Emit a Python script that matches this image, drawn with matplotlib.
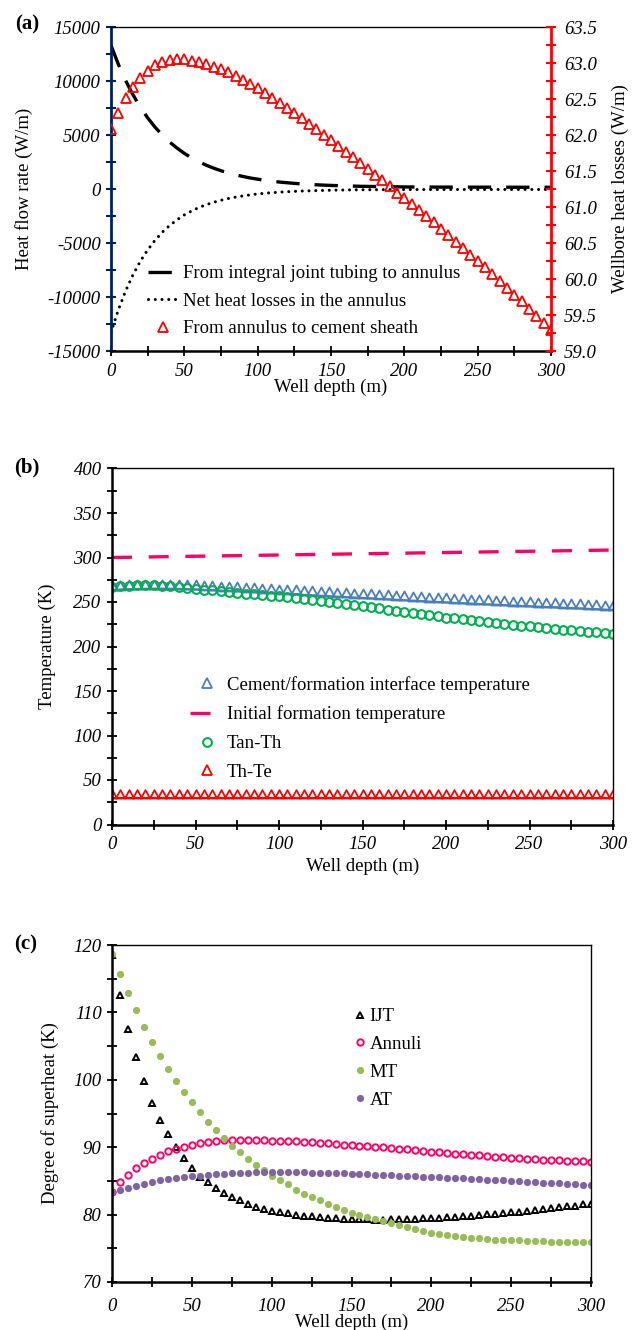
import numpy as np
import matplotlib
matplotlib.use("Agg")
import matplotlib.pyplot as plt
from matplotlib.lines import Line2D
from matplotlib.path import Path
from matplotlib.ticker import MultipleLocator, FormatStrFormatter

# well depth, every 5 m
depth = np.arange(0, 301, 5)
depth_coarse = np.arange(0, 301, 25)

# (a) heat flow rate along the well (W/m)
q_ijt_annulus = [13300, 11550, 10030, 8720, 7580, 6590, 5730, 4990, 4340, 3790,
                 3300, 2880, 2520, 2200, 1930, 1690, 1490, 1310, 1160, 1020,
                 910, 800, 720, 640, 580, 520, 470, 430, 390, 360,
                 330, 310, 290, 270, 250, 240, 230, 220, 210, 200,
                 190, 185, 182, 180, 178, 176, 175, 173, 172, 170,
                 169, 168, 167, 166, 165, 164, 163, 162, 161, 160, 160]
q_net_annulus = [-13290, -11190, -9430, -7940, -6690, -5640, -4750, -4000, -3380, -2850,
                 -2400, -2030, -1710, -1450, -1230, -1040, -880, -750, -640, -540,
                 -460, -390, -340, -290, -250, -220, -190, -170, -150, -130,
                 -115, -100, -90, -80, -75, -70, -65, -60, -58, -55,
                 -53, -52, -51, -50, -50, -49, -49, -48, -48, -47,
                 -47, -47, -46, -46, -46, -45, -45, -45, -45, -44, -44]
q_annulus_cement = [62.09, 62.31, 62.51, 62.66, 62.79, 62.89, 62.97, 63.02, 63.04, 63.05,
                    63.05, 63.03, 63.01, 62.98, 62.95, 62.91, 62.87, 62.82, 62.77, 62.71,
                    62.65, 62.58, 62.51, 62.44, 62.37, 62.30, 62.23, 62.15, 62.08, 62.00,
                    61.93, 61.85, 61.77, 61.69, 61.61, 61.53, 61.45, 61.37, 61.29, 61.20,
                    61.12, 61.04, 60.96, 60.88, 60.79, 60.70, 60.61, 60.52, 60.43, 60.34,
                    60.25, 60.16, 60.07, 59.97, 59.88, 59.78, 59.69, 59.59, 59.49, 59.39,
                    59.29]

# (b) temperatures (K)
t_cement_formation = [263.5, 264.0, 264.4, 264.7, 264.9, 265.0, 265.0, 264.9, 264.7, 264.4,
                      264.1, 263.7, 263.3, 262.9, 262.4, 262.0, 261.5, 261.0, 260.5, 260.0,
                      259.5, 259.0, 258.5, 258.0, 257.5, 257.0, 256.5, 256.0, 255.5, 255.0,
                      254.5, 254.0, 253.5, 253.0, 252.5, 252.0, 251.5, 251.0, 250.5, 250.0,
                      249.5, 249.0, 248.6, 248.2, 247.7, 247.3, 246.9, 246.5, 246.0, 245.6,
                      245.2, 244.8, 244.4, 244.0, 243.5, 243.1, 242.7, 242.3, 241.9, 241.5,
                      241.1]
t_initial = [300.0, 300.7, 301.4, 302.1, 302.8, 303.5, 304.2, 304.9, 305.6, 306.3,
             307.0, 307.7, 308.4]
tan_th = [267.0, 267.9, 268.5, 268.9, 269.0, 268.9, 268.5, 267.9, 267.0, 266.1,
          265.0, 264.0, 263.0, 262.0, 261.0, 260.2, 259.5, 258.8, 258.0, 257.3,
          256.5, 255.5, 254.5, 253.5, 252.5, 251.3, 250.0, 248.8, 247.5, 246.5,
          245.5, 244.3, 243.0, 241.5, 240.0, 238.8, 237.5, 236.2, 235.0, 233.8,
          232.5, 231.5, 230.5, 229.5, 228.5, 227.5, 226.5, 225.5, 224.5, 223.5,
          222.5, 221.5, 220.5, 219.7, 219.0, 218.2, 217.5, 216.7, 216.0, 215.2,
          214.5]
th_te = [30.0, 30.0, 30.0, 30.0, 30.0, 30.0, 30.0, 30.0, 30.0, 30.0,
         30.0, 30.0, 30.0, 30.0, 30.0, 30.0, 30.0, 30.0, 30.0, 30.0,
         30.0, 30.0, 30.0, 30.0, 30.0, 30.0, 30.0, 30.0, 30.0, 30.0,
         30.0, 30.0, 30.0, 30.0, 30.0, 30.0, 30.0, 30.0, 30.0, 30.0,
         30.0, 30.0, 30.0, 30.0, 30.0, 30.0, 30.0, 30.0, 30.0, 30.0,
         30.0, 30.0, 30.0, 30.0, 30.0, 30.0, 30.0, 30.0, 30.0, 30.0,
         30.0]

# (c) degree of superheat (K)
sh_ijt = [118.5, 112.6, 107.6, 103.4, 99.8, 96.6, 94.0, 91.9, 90.0, 88.4,
          86.9, 85.6, 84.8, 84.0, 83.2, 82.6, 82.1, 81.6, 81.2, 80.9,
          80.6, 80.4, 80.2, 80.0, 79.85, 79.75, 79.65, 79.55, 79.5, 79.4,
          79.35, 79.3, 79.3, 79.25, 79.25, 79.3, 79.3, 79.35, 79.4, 79.45,
          79.5, 79.55, 79.6, 79.7, 79.75, 79.85, 79.95, 80.05, 80.15, 80.25,
          80.35, 80.45, 80.55, 80.7, 80.8, 80.95, 81.1, 81.25, 81.35, 81.5,
          81.6]
sh_annuli = [83.4, 84.8, 85.9, 86.9, 87.7, 88.3, 88.9, 89.4, 89.8, 90.1,
             90.4, 90.6, 90.8, 90.9, 91.0, 91.0, 91.0, 91.0, 91.0, 91.0,
             90.95, 90.9, 90.9, 90.85, 90.8, 90.75, 90.65, 90.6, 90.5, 90.4,
             90.35, 90.25, 90.2, 90.1, 90.0, 89.9, 89.8, 89.7, 89.6, 89.45,
             89.35, 89.25, 89.15, 89.05, 88.95, 88.9, 88.8, 88.7, 88.6, 88.55,
             88.45, 88.4, 88.3, 88.25, 88.15, 88.1, 88.05, 88.0, 87.95, 87.9,
             87.85]
sh_mt = [118.7, 115.7, 112.9, 110.3, 107.9, 105.6, 103.5, 101.6, 99.8, 98.2,
         96.7, 95.2, 93.8, 92.6, 91.4, 90.2, 89.3, 88.3, 87.4, 86.6,
         85.8, 85.1, 84.5, 83.7, 83.1, 82.6, 82.1, 81.6, 81.1, 80.7,
         80.3, 80.0, 79.7, 79.3, 79.0, 78.7, 78.4, 78.1, 77.8, 77.5,
         77.3, 77.1, 77.0, 76.8, 76.7, 76.6, 76.5, 76.4, 76.3, 76.3,
         76.2, 76.2, 76.1, 76.1, 76.1, 76.0, 76.0, 76.0, 76.0, 76.0,
         75.9]
sh_at = [83.4, 83.7, 84.0, 84.3, 84.6, 84.9, 85.1, 85.3, 85.45, 85.6,
         85.7, 85.8, 85.9, 86.0, 86.05, 86.1, 86.15, 86.2, 86.25, 86.25,
         86.3, 86.3, 86.3, 86.28, 86.26, 86.24, 86.2, 86.17, 86.14, 86.1,
         86.06, 86.02, 85.98, 85.94, 85.9, 85.85, 85.8, 85.75, 85.7, 85.65,
         85.6, 85.54, 85.48, 85.42, 85.36, 85.3, 85.24, 85.18, 85.12, 85.06,
         85.0, 84.94, 84.88, 84.82, 84.76, 84.7, 84.63, 84.56, 84.49, 84.42,
         84.35]

plt.rcParams['font.family'] = ['Liberation Serif', 'DejaVu Serif']
plt.rcParams['font.style'] = 'italic'     # tick numbers are italic
plt.rcParams['axes.unicode_minus'] = False
FS = 13.5
NAVY = '#002060'
BLUE = '#4a7ebb'
PINK = '#ff0066'
GREEN = '#00b050'
RED = '#ff0000'
LEAF = '#9bbb59'
PURPLE = '#8064a2'
W, H = 632, 1330

fig = plt.figure(figsize=(W / 100, H / 100), dpi=100)


def axes_px(l, t, r, b):
    return fig.add_axes([l / W, 1 - b / H, (r - l) / W, (b - t) / H])


def depth_axis(ax, ylab_x, xlab_y, pad=5):
    ax.set_xlim(0, 300)
    ax.xaxis.set_major_locator(MultipleLocator(50))
    ax.xaxis.set_minor_locator(MultipleLocator(25))
    ax.tick_params(axis='x', which='both', direction='inout', length=7, width=1.3,
                   labelsize=FS, pad=pad, top=False)
    ax.set_xlabel('Well depth (m)', fontsize=FS, fontstyle='normal', va='center')
    ax.xaxis.set_label_coords(0.5, xlab_y)
    ax.yaxis.set_label_coords(ylab_x, 0.5)


def legend_at(ax, handles, labels, x, y, **kw):
    return ax.legend(handles, labels, loc='upper left', bbox_to_anchor=(x / W, 1 - y / H),
                     bbox_transform=fig.transFigure, frameon=False, borderpad=0,
                     borderaxespad=0, prop={'size': FS, 'style': 'normal'}, **kw)


# triangle sitting on its data point, so the curve runs along the bases
tri_base = Path([(-0.55, 0), (0.55, 0), (0, 1.0), (-0.55, 0)],
                [Path.MOVETO, Path.LINETO, Path.LINETO, Path.CLOSEPOLY])

# ---------------- (a) ----------------
ax = axes_px(111, 27, 551, 351)
ax2 = ax.twinx()
l1, = ax.plot(depth, q_ijt_annulus, color='k', lw=2.4, dashes=(7, 4.5))
l2, = ax.plot(depth, q_net_annulus, color='k', lw=2.2, dashes=(0.01, 2.2),
              dash_capstyle='round')
l3, = ax2.plot(depth, q_annulus_cement, ls='none', marker='^', ms=7, mfc='none',
               mec=RED, mew=1.3)
ax.set_ylim(-15000, 15000)
ax.yaxis.set_major_locator(MultipleLocator(5000))
ax.yaxis.set_minor_locator(MultipleLocator(2500))
ax.tick_params(axis='y', which='both', direction='inout', length=7, width=1.5,
               color=NAVY, labelsize=FS, pad=4)
ax2.set_ylim(59.0, 63.5)
ax2.yaxis.set_major_locator(MultipleLocator(0.5))
ax2.yaxis.set_minor_locator(MultipleLocator(0.25))
ax2.yaxis.set_major_formatter(FormatStrFormatter('%.1f'))
ax2.tick_params(axis='y', which='both', direction='inout', length=7, width=1.5,
                color=RED, labelsize=FS, pad=6)
ax.spines['left'].set(color=NAVY, lw=2.0)
ax.spines['bottom'].set(lw=1.8)
ax.spines['top'].set(lw=1.0)
ax.spines['right'].set_visible(False)
for s in ('left', 'top', 'bottom'):
    ax2.spines[s].set_visible(False)
ax2.spines['right'].set(color=RED, lw=2.0)
ax.set_ylabel('Heat flow rate (W/m)', fontsize=FS, fontstyle='normal', va='center')
ax2.set_ylabel('Wellbore heat losses (W/m)', fontsize=FS, fontstyle='normal', va='center')
ax2.yaxis.set_label_coords(1.157, 0.5)
depth_axis(ax, -0.198, -0.111)
legend_at(ax2, [l1, l2, l3],
          ['From integral joint tubing to annulus', 'Net heat losses in the annulus',
           'From annulus to cement sheath'],
          148, 265, handlelength=1.6, handletextpad=0.27, labelspacing=0.56)

# ---------------- (b) ----------------
bx = axes_px(112, 468.5, 613, 824.5)
bx.plot(depth, t_cement_formation, color=BLUE, lw=1.6)
bx.plot(depth, t_cement_formation, ls='none', marker=tri_base, ms=13, mfc='none',
        mec=BLUE, mew=1.3)
bx.plot(depth_coarse, t_initial, color=PINK, lw=2.4, dashes=(6, 5))
bx.plot(depth, tan_th, ls='none', marker='o', ms=6.3, mfc='none', mec=GREEN, mew=1.5)
bx.plot(depth, th_te, color=RED, lw=1.6)
bx.plot(depth, th_te, ls='none', marker=tri_base, ms=12, mfc='none', mec=RED, mew=1.3)
bx.set_ylim(0, 400)
bx.yaxis.set_major_locator(MultipleLocator(50))
bx.yaxis.set_minor_locator(MultipleLocator(25))
bx.tick_params(axis='y', which='both', direction='inout', length=7, width=1.3,
               labelsize=FS, pad=4, right=False)
for s in ('left', 'bottom'):
    bx.spines[s].set(lw=1.8)
for s in ('top', 'right'):
    bx.spines[s].set(lw=1.0)
bx.set_ylabel('Temperature (K)', fontsize=FS, fontstyle='normal', va='center')
depth_axis(bx, -0.130, -0.117)
hb = [Line2D([], [], ls='none', marker='^', ms=7, mfc='none', mec=BLUE, mew=1.3),
      Line2D([], [], color=PINK, lw=2.4, dashes=(6, 5)),
      Line2D([], [], ls='none', marker='o', ms=6.3, mfc='none', mec=GREEN, mew=1.5),
      Line2D([], [], ls='none', marker='^', ms=7, mfc='none', mec=RED, mew=1.3)]
legend_at(bx, hb, ['Cement/formation interface temperature', 'Initial formation temperature',
                   'Tan-Th', 'Th-Te'],
          190, 676, handlelength=1.76, handletextpad=0.2, labelspacing=0.62)

# ---------------- (c) ----------------
cx = axes_px(112, 945, 591, 1282)
c1, = cx.plot(depth, sh_ijt, ls='none', marker='^', ms=4.6, mfc='none', mec='k', mew=1.4)
c2, = cx.plot(depth, sh_annuli, ls='none', marker='o', ms=4.6, mfc='none', mec=PINK, mew=1.4)
c3, = cx.plot(depth, sh_mt, ls='none', marker='o', ms=5.2, color=LEAF, mew=0)
c4, = cx.plot(depth, sh_at, ls='none', marker='o', ms=5.2, color=PURPLE, mew=0)
cx.set_ylim(70, 120)
cx.yaxis.set_major_locator(MultipleLocator(10))
cx.yaxis.set_minor_locator(MultipleLocator(5))
cx.tick_params(axis='y', which='both', direction='inout', length=7, width=1.3,
               labelsize=FS, pad=4, right=False)
for s in ('left', 'bottom'):
    cx.spines[s].set(lw=1.8)
for s in ('top', 'right'):
    cx.spines[s].set(lw=1.0)
cx.set_ylabel('Degree of superheat (K)', fontsize=FS, fontstyle='normal', va='center')
depth_axis(cx, -0.129, -0.119, pad=8)
legend_at(cx, [c1, c2, c3, c4], ['IJT', 'Annuli', 'MT', 'AT'],
          354.5, 1008, handlelength=0.6, handletextpad=0.19, labelspacing=0.57)

# panel letters
for letter, (x, y) in zip(['(a)', '(b)', '(c)'], [(27, 24), (27, 467), (26, 944)]):
    fig.text(x / W, 1 - y / H, letter, fontsize=15, fontweight='bold', fontstyle='normal',
             ha='center', va='center')

fig.savefig('out.png', dpi=100)
